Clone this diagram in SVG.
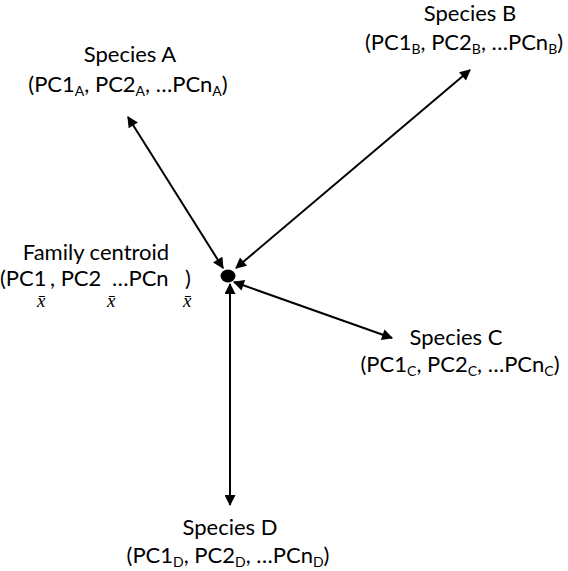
<svg xmlns="http://www.w3.org/2000/svg" width="568" height="571" viewBox="0 0 568 571">
<style>
text{font-family:"Lato","Open Sans","Liberation Sans",sans-serif;font-size:22px;fill:#000}
.c{text-anchor:middle}
.s{font-size:14px}
.xb{font-family:"Liberation Serif","DejaVu Serif",serif;font-style:italic;font-size:19px}
.ln{stroke:#000;stroke-width:2;fill:none;marker-start:url(#ah);marker-end:url(#ah)}
</style>
<defs>
<marker id="ah" viewBox="0 0 10 10" refX="9" refY="5" markerWidth="6" markerHeight="5.5" orient="auto-start-reverse" markerUnits="strokeWidth">
<path d="M0,0 L10,5 L0,10 z" fill="#000"/>
</marker>
</defs>
<rect width="568" height="571" fill="#fff"/>
<g id="connectors">
<line class="ln" x1="223" y1="268" x2="128" y2="117"/>
<line class="ln" x1="236" y1="268" x2="470" y2="70"/>
<line class="ln" x1="234" y1="282" x2="392" y2="338"/>
<line class="ln" x1="230" y1="284" x2="230" y2="505"/>
</g>
<g id="centroid">
<ellipse cx="228" cy="276" rx="7.5" ry="6.5" fill="#000"/>
<text x="96" y="260" class="c">Family centroid</text>
<text x="0" y="286">(PC1</text>
<text x="37" y="307" class="xb">x̄</text>
<text x="50" y="286">, PC2</text>
<text x="107" y="307" class="xb">x̄</text>
<text x="112" y="286">…PCn</text>
<text x="185" y="286">)</text>
<text x="183" y="307" class="xb">x̄</text>
</g>
<g id="speciesA">
<text x="130" y="62" class="c">Species A</text>
<text x="128" y="92" class="c">(PC1<tspan class="s" dy="4">A</tspan><tspan dy="-4">, PC2</tspan><tspan class="s" dy="4">A</tspan><tspan dy="-4">, …PCn</tspan><tspan class="s" dy="4">A</tspan><tspan dy="-4">)</tspan></text>
</g>
<g id="speciesB">
<text x="470" y="21" class="c">Species B</text>
<text x="464" y="50" class="c">(PC1<tspan class="s" dy="4">B</tspan><tspan dy="-4">, PC2</tspan><tspan class="s" dy="4">B</tspan><tspan dy="-4">, …PCn</tspan><tspan class="s" dy="4">B</tspan><tspan dy="-4">)</tspan></text>
</g>
<g id="speciesC">
<text x="456" y="345" class="c">Species C</text>
<text x="460" y="372" class="c">(PC1<tspan class="s" dy="4">C</tspan><tspan dy="-4">, PC2</tspan><tspan class="s" dy="4">C</tspan><tspan dy="-4">, …PCn</tspan><tspan class="s" dy="4">C</tspan><tspan dy="-4">)</tspan></text>
</g>
<g id="speciesD">
<text x="230" y="535" class="c">Species D</text>
<text x="228" y="563" class="c">(PC1<tspan class="s" dy="4">D</tspan><tspan dy="-4">, PC2</tspan><tspan class="s" dy="4">D</tspan><tspan dy="-4">, …PCn</tspan><tspan class="s" dy="4">D</tspan><tspan dy="-4">)</tspan></text>
</g>
</svg>
